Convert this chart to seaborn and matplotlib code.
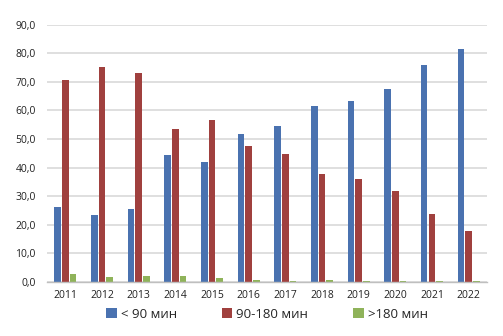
import matplotlib
matplotlib.use("Agg")
import matplotlib.pyplot as plt
import seaborn as sns
import pandas as pd
from matplotlib.ticker import FuncFormatter, MultipleLocator

years = ["2011", "2012", "2013", "2014", "2015", "2016",
         "2017", "2018", "2019", "2020", "2021", "2022"]
under_90 = [26.4, 23.4, 25.4, 44.5, 42.0, 51.8, 54.6, 61.5, 63.3, 67.5, 75.8, 81.6]
from_90_to_180 = [70.6, 75.1, 73.0, 53.5, 56.7, 47.6, 44.8, 37.8, 36.1, 31.9, 23.8, 18.0]
over_180 = [2.9, 1.6, 2.0, 2.0, 1.5, 0.8, 0.4, 0.8, 0.4, 0.4, 0.3, 0.3]
series_names = ["< 90 мин", "90-180 мин", ">180 мин"]
colors = ["#4a72b0", "#a0403e", "#8fb35a"]

df = pd.DataFrame({
    "year": years * 3,
    "value": under_90 + from_90_to_180 + over_180,
    "group": [series_names[0]] * 12 + [series_names[1]] * 12 + [series_names[2]] * 12,
})

sns.set_style("white")
plt.rcParams["font.family"] = ["Open Sans", "DejaVu Sans"]

fig = plt.figure(figsize=(5.03, 3.36), dpi=100)
ax = fig.add_axes([0.0934, 0.1607, 0.8746, 0.7658])

sns.barplot(data=df, x="year", y="value", hue="group", hue_order=series_names,
            palette=colors, width=0.63, gap=0.15, saturation=1,
            edgecolor="none", ax=ax, legend=True)

ax.set_ylim(0, 90)
ax.set_xlim(-0.5, 11.5)
ax.yaxis.set_major_locator(MultipleLocator(10))
ax.yaxis.set_major_formatter(FuncFormatter(lambda v, _: f"{v:.1f}".replace(".", ",")))
ax.grid(axis="y", color="#d9d9d9", linewidth=1.2)
ax.set_axisbelow(True)
for s in ["top", "right", "left"]:
    ax.spines[s].set_visible(False)
ax.spines["bottom"].set_color("#bfbfbf")
ax.spines["bottom"].set_linewidth(1.0)
ax.tick_params(axis="both", length=0, labelsize=7.5, colors="#222222")
ax.tick_params(axis="y", pad=8)
ax.tick_params(axis="x", pad=6)
ax.set_xlabel("")
ax.set_ylabel("")

handles, labels = ax.get_legend_handles_labels()
ax.legend(handles, labels, loc="upper center", bbox_to_anchor=(0.5, -0.055),
          ncol=3, frameon=False, fontsize=9.5, handlelength=0.8, handleheight=0.8,
          handletextpad=0.3, columnspacing=3.4)

fig.savefig("out.png", dpi=100)
